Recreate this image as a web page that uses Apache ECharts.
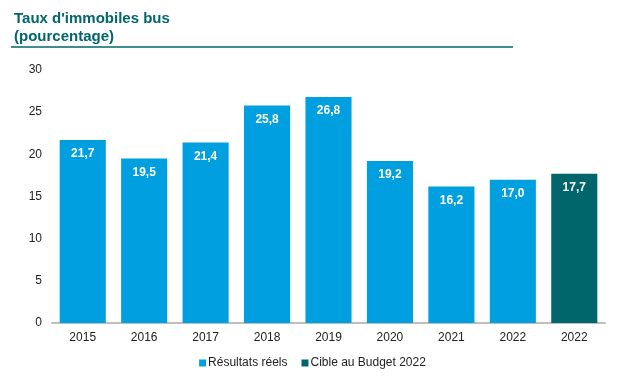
<!DOCTYPE html>
<html><head><meta charset="utf-8">
<script src="https://cdn.jsdelivr.net/npm/echarts@6/dist/echarts.min.js"></script>
<style>html,body{margin:0;padding:0;background:#fff}#c{width:625px;height:380px}</style>
</head><body><div id="c"></div>
<script>
const categories = ['2015','2016','2017','2018','2019','2020','2021','2022','2022'];
const actual = [21.7,19.5,21.4,25.8,26.8,19.2,16.2,17.0,null];
const target = [null,null,null,null,null,null,null,null,17.7];
const yTicks = {min:0,max:30,interval:5};
const seriesNames = ['Résultats réels','Cible au Budget 2022'];
const fmt = p => p.value == null ? '' : p.value.toFixed(1).replace('.', ',');
const chart = echarts.init(document.getElementById('c'));
chart.setOption({
  animation:false,
  textStyle:{fontFamily:'Liberation Sans, Arial, sans-serif'},
  title:{text:"Taux d'immobiles bus\n(pourcentage)",left:9,top:5,
    textStyle:{color:'#00666B',fontSize:15,fontWeight:'bold',lineHeight:18,fontFamily:'Liberation Sans, Arial, sans-serif'}},
  graphic:[{type:'line',shape:{x1:11,y1:47,x2:513,y2:47},style:{stroke:'#00666B',lineWidth:1.5}}],
  legend:{bottom:6,left:'center',itemWidth:7,itemHeight:7,itemGap:14,icon:'rect',
    textStyle:{fontSize:12,color:'#222',padding:[0,0,0,-3]},data:seriesNames},
  grid:{left:52,right:20,top:70,bottom:57},
  xAxis:{type:'category',data:categories,
    axisLine:{lineStyle:{color:'#BFBFBF',width:2}},axisTick:{show:false},
    axisLabel:{color:'#222',fontSize:12,margin:9}},
  yAxis:{type:'value',min:yTicks.min,max:yTicks.max,interval:yTicks.interval,
    splitLine:{show:false},axisLine:{show:false},axisTick:{show:false},
    axisLabel:{color:'#222',fontSize:12,margin:10}},
  series:[
    {name:seriesNames[0],type:'bar',stack:'a',data:actual,barWidth:'75%',
      itemStyle:{color:'#009FDF'},
      label:{show:true,position:'insideTop',distance:8,color:'#fff',fontWeight:'bold',fontSize:12,formatter:fmt}},
    {name:seriesNames[1],type:'bar',stack:'a',data:target,barWidth:'75%',
      itemStyle:{color:'#00666B'},
      label:{show:true,position:'insideTop',distance:8,color:'#fff',fontWeight:'bold',fontSize:12,formatter:fmt}}
  ]
});
</script></body></html>
